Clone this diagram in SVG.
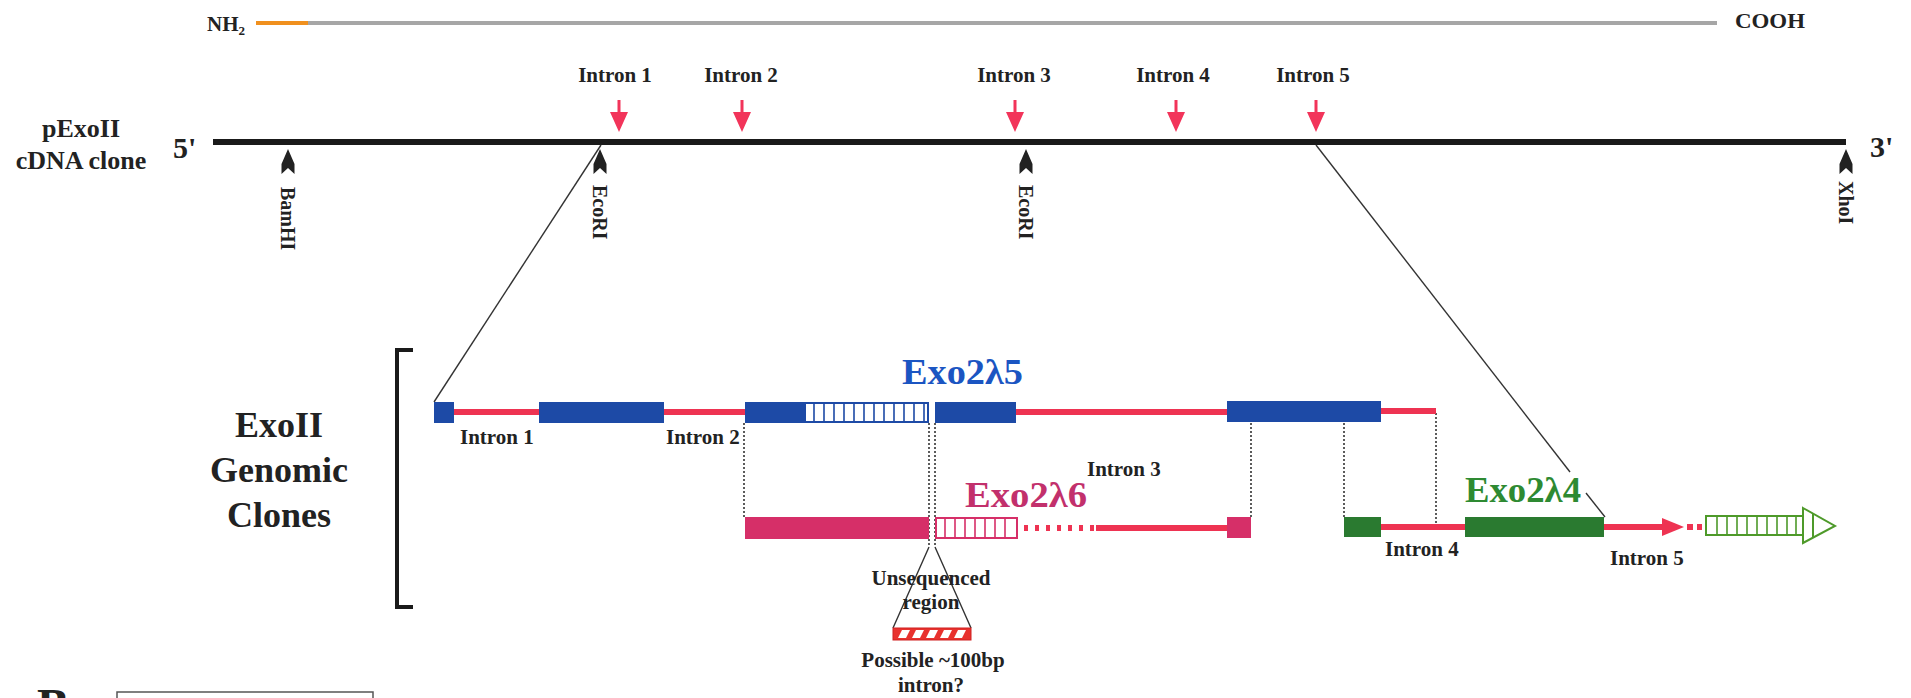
<svg xmlns="http://www.w3.org/2000/svg" width="1911" height="698" viewBox="0 0 1911 698">
<style>
text{font-family:"Liberation Serif","Times New Roman",serif;font-weight:bold;fill:#222}
.t21{font-size:21px}
.t20{font-size:20px}
.gi{font-size:21px}
.big{font-size:36px}
.exo{font-size:35px}
.intr{stroke:#ee3352;stroke-width:6;fill:none}
.blue{fill:#1d4aa6}
.pink{fill:#d62f68}
.green{fill:#2a7a30}
.dot{stroke:#333;stroke-width:1.6;stroke-dasharray:2 2;fill:none}
.thin{stroke:#333;stroke-width:1.4;fill:none}
</style>
<defs>
<path id="rarrow" d="M-1.5,-32 H1.5 V-20 H9 L0,0 L-9,-20 H-1.5 Z" fill="#f2345a"/>
<path id="tack" d="M0,0 L6.5,15 L6.5,25 L0,19 L-6.5,25 L-6.5,15 Z" fill="#222"/>
</defs>

<g id="protein">
<line x1="256" y1="23" x2="308" y2="23" stroke="#f0901e" stroke-width="4"/>
<line x1="308" y1="23" x2="1717" y2="23" stroke="#a6a6a6" stroke-width="4"/>
<text x="207" y="31" class="t21">NH<tspan font-size="13" dy="4">2</tspan></text>
<text x="1735" y="28" class="t21" textLength="70" lengthAdjust="spacingAndGlyphs">COOH</text>
</g>

<g id="cdna">
<text x="81" y="137" font-size="26" text-anchor="middle">pExoII</text>
<text x="81" y="169" font-size="26" text-anchor="middle">cDNA clone</text>
<text x="173" y="158" font-size="30">5'</text>
<text x="1870" y="157" font-size="30">3'</text>
<line x1="213" y1="142" x2="1846" y2="142" stroke="#1a1a1a" stroke-width="6"/>
</g>

<g id="intron-arrows">
<use href="#rarrow" x="619" y="132"/>
<use href="#rarrow" x="742" y="132"/>
<use href="#rarrow" x="1015" y="132"/>
<use href="#rarrow" x="1176" y="132"/>
<use href="#rarrow" x="1316" y="132"/>
<text x="615" y="82" class="t21" text-anchor="middle">Intron 1</text>
<text x="741" y="82" class="t21" text-anchor="middle">Intron 2</text>
<text x="1014" y="82" class="t21" text-anchor="middle">Intron 3</text>
<text x="1173" y="82" class="t21" text-anchor="middle">Intron 4</text>
<text x="1313" y="82" class="t21" text-anchor="middle">Intron 5</text>
</g>

<g id="sites">
<use href="#tack" x="288" y="149"/>
<use href="#tack" x="600" y="149"/>
<use href="#tack" x="1026" y="149"/>
<use href="#tack" x="1846" y="149"/>
<text class="t20" transform="translate(281,187) rotate(90)">BamHI</text>
<text class="t20" transform="translate(593,185) rotate(90)">EcoRI</text>
<text class="t20" transform="translate(1019,185) rotate(90)">EcoRI</text>
<text class="t20" transform="translate(1839,181) rotate(90)">XhoI</text>
</g>

<g id="connectors">
<line class="thin" x1="601" y1="145" x2="434" y2="402"/>
<line class="thin" x1="1316" y1="145" x2="1570" y2="472"/>
<line class="thin" x1="1586" y1="493" x2="1605" y2="517"/>
<path class="dot" d="M744,423 V517" stroke="#3a6a3a"/>
<path class="dot" d="M929,423 V547 M935,423 V547 M1251,423 V517 M1344,423 V517 M1436,413 V524"/>
<path class="thin" d="M929,547 L893,628 M935,547 L971,628"/>
</g>

<g id="genomic-label">
<path d="M413,350 H397 V607 H413" stroke="#1a1a1a" stroke-width="4" fill="none"/>
<text x="279" y="437" class="big" text-anchor="middle">ExoII</text>
<text x="279" y="482" class="big" text-anchor="middle">Genomic</text>
<text x="279" y="527" class="big" text-anchor="middle">Clones</text>
</g>

<g id="exo2l5">
<path class="intr" d="M454,412 H539 M664,412 H745 M1016,412 H1227 M1381,411 H1436"/>
<rect class="blue" x="434" y="402" width="20" height="21"/>
<rect class="blue" x="539" y="402" width="125" height="21"/>
<rect class="blue" x="745" y="402" width="59" height="21"/>
<rect x="805" y="403" width="123" height="19" fill="#fff" stroke="#1d4aa6" stroke-width="2"/>
<path d="M814,403 V422 M824,403 V422 M834,403 V422 M844,403 V422 M854,403 V422 M864,403 V422 M874,403 V422 M884,403 V422 M894,403 V422 M904,403 V422 M914,403 V422 M924,403 V422" stroke="#1d4aa6" stroke-width="1.6"/>
<rect class="blue" x="935" y="402" width="81" height="21"/>
<rect class="blue" x="1227" y="401" width="154" height="21"/>
<text x="902" y="384" class="exo" style="fill:#1b55c2" textLength="121" lengthAdjust="spacingAndGlyphs">Exo2λ5</text>
<text x="460" y="444" class="gi">Intron 1</text>
<text x="666" y="444" class="gi">Intron 2</text>
</g>

<g id="exo2l6">
<rect class="pink" x="745" y="517" width="184" height="22"/>
<rect x="936" y="518" width="81" height="20" fill="#fff" stroke="#d62f68" stroke-width="2"/>
<path d="M945,518 V538 M955,518 V538 M965,518 V538 M975,518 V538 M985,518 V538 M995,518 V538 M1005,518 V538" stroke="#d62f68" stroke-width="1.6"/>
<path d="M1024,528 H1096" stroke="#ee3352" stroke-width="6" stroke-dasharray="4 7"/>
<path class="intr" d="M1096,528 H1227"/>
<rect class="pink" x="1227" y="517" width="24" height="21"/>
<text x="965" y="507" class="exo" style="fill:#c2306c" textLength="122" lengthAdjust="spacingAndGlyphs">Exo2λ6</text>
<text x="1087" y="476" class="gi">Intron 3</text>
</g>

<g id="exo2l4">
<path class="intr" d="M1381,527 H1465 M1604,527 H1666"/>
<path d="M1662,518 L1684,527 L1662,536 Z" fill="#ee3352"/>
<rect x="1687" y="524" width="6" height="6" fill="#ee3352"/>
<rect x="1697" y="524" width="5" height="6" fill="#ee3352"/>
<rect class="green" x="1344" y="517" width="37" height="20"/>
<rect class="green" x="1465" y="517" width="139" height="20"/>
<rect x="1706" y="516" width="97" height="19" fill="#fff" stroke="#4e9a2a" stroke-width="2"/>
<path d="M1717,516 V535 M1727,516 V535 M1737,516 V535 M1747,516 V535 M1757,516 V535 M1767,516 V535 M1777,516 V535 M1787,516 V535 M1796,516 V535" stroke="#4e9a2a" stroke-width="1.6"/>
<path d="M1803,508 L1835,526 L1803,543 Z M1813,514 V538" fill="#fff" stroke="#4e9a2a" stroke-width="2"/>
<text x="1465" y="502" class="exo" style="fill:#2e8a32" textLength="116" lengthAdjust="spacingAndGlyphs">Exo2λ4</text>
<text x="1385" y="556" class="gi">Intron 4</text>
<text x="1610" y="565" class="gi">Intron 5</text>
</g>

<g id="unsequenced">
<rect x="893" y="628" width="78" height="12" fill="#e8322e" stroke="#d02020" stroke-width="1"/>
<path d="M902,630 H910 L906,638 H898 Z M916,630 H924 L920,638 H912 Z M930,630 H938 L934,638 H926 Z M944,630 H952 L948,638 H940 Z M958,630 H966 L962,638 H954 Z" fill="#fff"/>
<text x="931" y="585" class="t21" text-anchor="middle">Unsequenced</text>
<text x="931" y="609" class="t21" text-anchor="middle">region</text>
<text x="933" y="667" class="t21" text-anchor="middle">Possible ~100bp</text>
<text x="931" y="692" class="t21" text-anchor="middle">intron?</text>
</g>

<g id="panel-b">
<text x="37" y="722" font-size="48">B</text>
<rect x="117" y="692" width="256" height="40" fill="none" stroke="#555" stroke-width="1.5"/>
</g>
</svg>
